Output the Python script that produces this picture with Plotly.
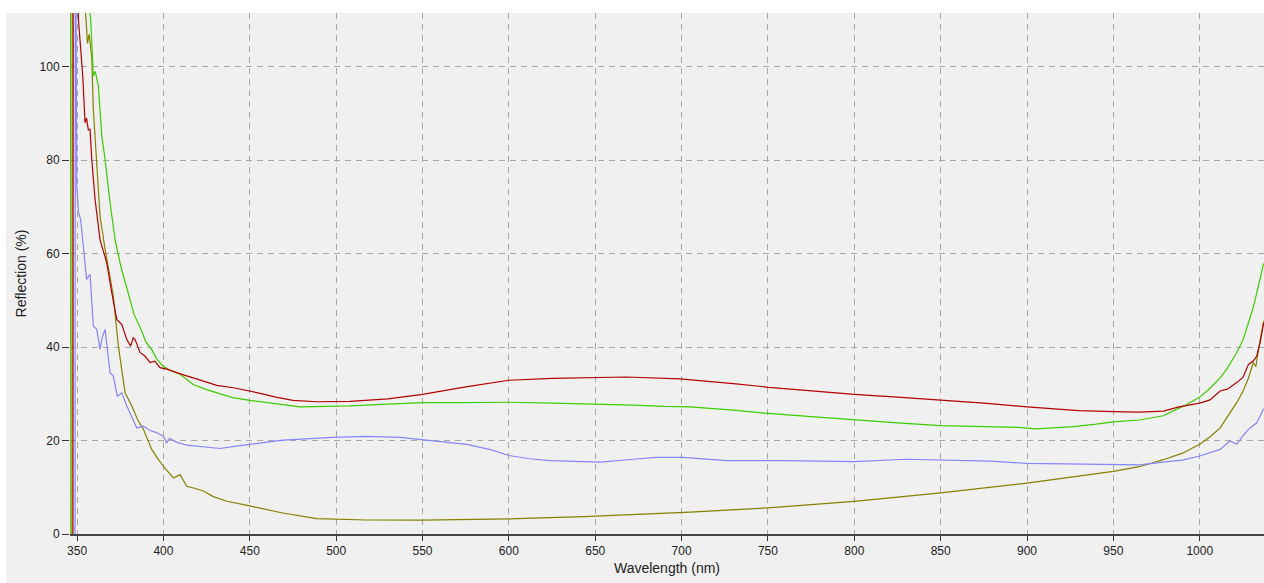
import plotly.graph_objects as go

# ---- data ----
red_wl = [347.6, 347.8, 350.8, 352.1, 353.3, 354.6, 355.5, 356.5, 357.5, 358.5, 360.4, 363.3, 367.2, 370.1, 373, 375.9,
          377.5, 378.8, 381, 382.5, 383.6, 386.5, 389, 392.3, 395, 398, 402, 407.7, 412, 417.3, 423, 430.9, 440.5,
          450, 456, 465, 475, 488.8, 508, 530, 550, 575, 600, 625, 643, 668, 699, 710, 730, 750.5, 775, 800, 825,
          850, 875, 900, 930, 950, 965, 979, 988, 1000, 1006, 1011.8, 1016, 1021.4, 1025, 1028.2, 1031, 1033, 1035, 1037]
red_val = [-10, 150, 110, 103.7, 98, 88, 89, 86.5, 86.6, 80.2, 71.6, 63, 58, 51.6, 45.9, 44.8,
           43, 41.6, 40.2, 42, 41.6, 38.8, 38.2, 36.7, 37, 35.6, 35.3, 34.5, 34.0, 33.4, 32.7, 31.8, 31.3,
           30.6, 30.1, 29.3, 28.6, 28.3, 28.4, 28.9, 29.9, 31.5, 32.9, 33.3, 33.4, 33.6, 33.2, 32.9, 32.2, 31.4, 30.6, 29.9, 29.3,
           28.7, 28.0, 27.2, 26.4, 26.2, 26.1, 26.3, 27.2, 28.0, 28.7, 30.6, 31.0, 32.4, 33.5, 36.3, 37.0, 38.1, 41.0, 45.2]

green_wl = [346.0, 346.2, 357.9, 359.4, 360.5, 362.3, 364.3, 366.2, 369.1, 372, 375.3, 377, 379.7, 383, 386.5, 390,
            393.2, 396, 399.9, 404, 409.6, 417.3, 425, 430.9, 440, 450, 465, 479, 495, 508, 530, 550, 575, 600,
            625, 643, 672, 690, 705, 730, 750, 775, 800, 825, 850, 878, 895, 905, 915, 927, 940, 950, 965, 979,
            985, 992, 1000, 1006, 1011.8, 1016, 1021.4, 1025, 1028.2, 1031, 1033, 1035, 1037]
green_val = [-10, 150, 110, 98, 99, 95.9, 85.2, 80.2, 70.9, 63, 57.3, 55, 50.9, 47, 44.2, 41,
             39.5, 37.5, 35.9, 35.0, 34.2, 32.0, 30.9, 30.2, 29.2, 28.6, 27.9, 27.2, 27.3, 27.4, 27.8, 28.1, 28.1, 28.2,
             28.0, 27.9, 27.6, 27.3, 27.2, 26.5, 25.8, 25.1, 24.4, 23.8, 23.2, 23.0, 22.8, 22.5, 22.7, 23.0, 23.5, 24.0, 24.4, 25.3,
             26.4, 27.6, 29.3, 31.2, 33.4, 35.5, 38.8, 41.5, 45.2, 48.5, 51.6, 54.5, 57.9]

blue_wl = [348.8, 349.0, 349.8, 350.8, 352.1, 353.3, 354.6, 355.5, 357.5, 359.4, 361.4, 363.3, 364.5, 366.2, 369.1,
           371, 373.3, 375.9, 378.8, 381, 384.6, 388.4, 392, 396.1, 400, 401.9, 403.5, 404.8, 408, 413.5, 420, 432.8,
           440, 450, 469, 498, 517.7, 537, 550, 575.6, 590, 600, 612, 623.9, 643, 652.8, 672, 685.6, 701, 710, 726,
           760, 800, 830, 878.6, 900, 950, 965, 979, 990, 1000, 1011.8, 1017.5, 1021.4, 1025, 1028.2, 1033, 1037]
blue_val = [-10, 150, 74.5, 68.8, 67.3, 63, 57.3, 54.5, 55.6, 44.5, 43.8, 39.5, 42, 43.8, 34.5,
            33.8, 29.5, 30.2, 27.4, 25.5, 22.7, 23.1, 22.2, 21.7, 20.9, 19.5, 20.5, 20.2, 19.6, 19.0, 18.8, 18.3,
            18.7, 19.2, 20.1, 20.7, 20.9, 20.7, 20.2, 19.2, 18.0, 16.8, 16.1, 15.7, 15.5, 15.4, 16.0, 16.4, 16.4, 16.2, 15.7,
            15.7, 15.5, 16.0, 15.6, 15.1, 14.8, 14.8, 15.4, 15.8, 16.7, 18.1, 19.9, 19.2, 21.0, 22.4, 23.8, 26.8]

olive_wl = [347.0, 347.2, 355.2, 356, 357, 358.5, 359.4, 361.4, 363.3, 366.2, 368.1, 371, 373.9, 377.8, 381.7, 385,
            388.4, 393.2, 396, 399.9, 403, 405.8, 409.6, 413.5, 418, 423.1, 428.9, 436.7, 450, 469, 488.8, 517.7,
            550, 575, 600, 643, 672, 705, 750, 800, 850, 900, 950, 965, 979, 990, 1000, 1006, 1011.8, 1016, 1021.4,
            1025, 1028.2, 1031, 1032.5, 1034, 1037]
olive_val = [-10, 150, 110, 105, 107, 102, 90.9, 80.2, 68, 61, 57.3, 50.9, 40.2, 30.2, 27.4, 24.5,
             22.4, 18.1, 16.5, 14.5, 13.2, 12.0, 12.7, 10.2, 9.8, 9.2, 8.0, 7.0, 6.0, 4.5, 3.3, 3.0,
             2.96, 3.1, 3.25, 3.7, 4.1, 4.7, 5.6, 7.0, 8.8, 10.9, 13.4, 14.4, 15.9, 17.3, 19.2, 20.8, 22.7, 25.0, 28.1,
             30.5, 33.4, 36.7, 35.8, 39.5, 45.6]

x_ticks = [350, 400, 450, 500, 550, 600, 650, 700, 750, 800, 850, 900, 950, 1000]
y_ticks = [0, 20, 40, 60, 80, 100]

series = [
    ("olive", olive_wl, olive_val, "#858000"),
    ("blue", blue_wl, blue_val, "#8585ff"),
    ("green", green_wl, green_val, "#3ccc00"),
    ("red", red_wl, red_val, "#b40000"),
]

fig = go.Figure()
for name, xs, ys, col in series:
    fig.add_trace(go.Scatter(x=xs, y=ys, mode="lines", name=name,
                             line=dict(color=col, width=1.2), showlegend=False))

W, H = 1264, 583
ml, mr, mt, mb = 70, 0, 13, 49
pw, ph = W - ml - mr, H - mt - mb

# gray panel behind plot + margins (white strip on top and left)
fig.add_shape(type="rect", xref="paper", yref="paper",
              x0=(6 - ml) / pw, x1=1, y0=-(mb / ph), y1=1,
              fillcolor="#f0f0f0", line=dict(width=0), layer="below")

fig.update_layout(
    width=W, height=H,
    margin=dict(l=ml, r=mr, t=mt, b=mb, autoexpand=False),
    paper_bgcolor="white", plot_bgcolor="#f0f0f0",
    font=dict(family="Liberation Sans, Arial, sans-serif", size=12, color="#222"),
    xaxis=dict(range=[345.9, 1037.2], tickvals=x_ticks, ticks="outside", ticklen=5,
               tickcolor="#333", showline=True, linecolor="#444", linewidth=1.5,
               showgrid=True, gridcolor="#a8a8a8", griddash="6px,5px", gridwidth=1,
               zeroline=False, automargin=False,
               title=dict(text="Wavelength (nm)", standoff=6),
               tickfont=dict(size=12)),
    yaxis=dict(range=[0, 111.5], tickvals=y_ticks, ticks="outside", ticklen=7,
               tickcolor="#333", showline=False,
               showgrid=True, gridcolor="#a8a8a8", griddash="6px,5px", gridwidth=1,
               zeroline=False, automargin=False,
               title=dict(text="Reflection (%)", standoff=9),
               tickfont=dict(size=12)),
)

fig.write_html("out.html", config={"displayModeBar": False},
               post_script="document.body.style.margin='0';document.body.style.overflow='hidden';")
